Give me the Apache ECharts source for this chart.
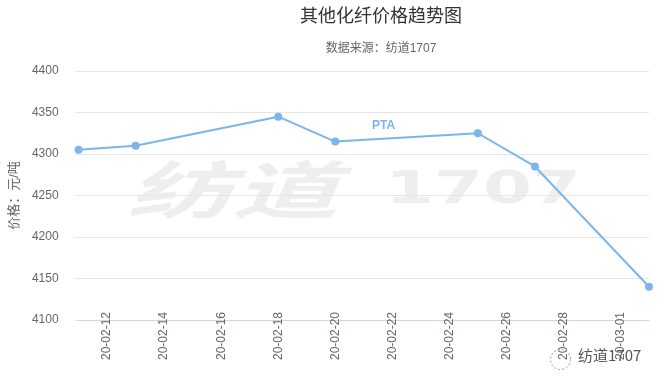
<!DOCTYPE html>
<html>
<head>
<meta charset="utf-8">
<script src="https://cdn.jsdelivr.net/npm/echarts@6/dist/echarts.min.js"></script>
<style>html,body{margin:0;padding:0;background:#fff}#c{width:666px;height:386px}</style>
</head>
<body>
<div id="c"></div>
<script>
const titleText = '其他化纤价格趋势图';
const subtitleText = '数据来源：纺道1707';
const yAxisName = '价格：元/吨';
const seriesName = 'PTA';
const dates = ['2020-02-11', '2020-02-13', '2020-02-18', '2020-02-20', '2020-02-25', '2020-02-27', '2020-03-02'];
const ptaPrices = [4305, 4310, 4345, 4315, 4325, 4285, 4140];
const tickDates = ['2020-02-12', '2020-02-14', '2020-02-16', '2020-02-18', '2020-02-20', '2020-02-22', '2020-02-24', '2020-02-26', '2020-02-28', '2020-03-01'];
const yTicks = [4100, 4150, 4200, 4250, 4300, 4350, 4400];

function ts(s) { return new Date(s + 'T00:00:00').getTime(); }
function pad(n) { return (n < 10 ? '0' : '') + n; }
function fmt(v) {
  const d = new Date(v);
  return pad(d.getFullYear() % 100) + '-' + pad(d.getMonth() + 1) + '-' + pad(d.getDate());
}

const FONT = "'Liberation Sans', 'Noto Sans CJK SC', sans-serif";
const chart = echarts.init(document.getElementById('c'));
chart.setOption({
  animation: false,
  backgroundColor: '#fff',
  textStyle: { fontFamily: FONT },
  title: {
    text: titleText,
    subtext: subtitleText,
    left: 376,
    textAlign: 'center',
    top: 3,
    itemGap: 17,
    textStyle: { fontSize: 18, fontWeight: 'normal', color: '#333', fontFamily: FONT },
    subtextStyle: { fontSize: 12, color: '#666', fontFamily: FONT }
  },
  grid: { left: 78, right: 17, top: 71, bottom: 66, containLabel: false },
  xAxis: {
    type: 'value',
    min: ts(dates[0]),
    max: ts(dates[dates.length - 1]),
    axisLine: { show: true, lineStyle: { color: '#ccd6eb', width: 1 } },
    axisTick: { show: false },
    splitLine: { show: false },
    axisLabel: {
      customValues: tickDates.map(ts),
      formatter: fmt,
      rotate: 90,
      margin: -8,
      color: '#666',
      fontSize: 12,
      fontFamily: FONT,
      hideOverlap: false
    }
  },
  yAxis: {
    type: 'value',
    min: yTicks[0],
    max: yTicks[yTicks.length - 1],
    interval: 50,
    name: yAxisName,
    nameLocation: 'middle',
    nameGap: 52,
    nameTextStyle: { color: '#666', fontSize: 13, fontFamily: FONT },
    axisLine: { show: false },
    axisTick: { show: true, length: 4, lineStyle: { color: '#e6e6e6' } },
    splitLine: { lineStyle: { color: '#e6e6e6', width: 1 } },
    axisLabel: { color: '#666', fontSize: 12, margin: 20, fontFamily: FONT, formatter: v => String(v) }
  },
  graphic: [
    { type: 'text', left: 127, top: 158, z: -10, silent: true, scaleX: 1.7,
      style: { text: '纺道', font: 'italic bold 62px "Noto Sans CJK SC"', fill: '#eeeeee' } },
    { type: 'text', left: 385, top: 170, z: -10, silent: true, scaleX: 1.6,
      style: { text: '1707', font: 'bold 44px "DejaVu Sans"', fill: '#eeeeee' } },
    { type: 'circle', left: 548, top: 347, silent: true, z: 10,
      shape: { r: 10 }, style: { fill: 'none', stroke: '#999', lineWidth: 1, lineDash: [2, 2] } },
    { type: 'text', left: 578, top: 348, z: 10, silent: true,
      style: { text: '纺道1707', font: '15px "Noto Sans CJK SC"', fill: '#555' } },
    { type: 'text', left: 372, top: 120, z: 10, silent: true,
      style: { text: seriesName, font: 'bold 12px "Liberation Sans"', fill: '#7cb5ec' } }
  ],
  series: [{
    name: seriesName,
    type: 'line',
    data: dates.map((d, i) => [ts(d), ptaPrices[i]]),
    symbol: 'circle',
    symbolSize: 8,
    lineStyle: { color: '#7cb5ec', width: 2 },
    itemStyle: { color: '#7cb5ec' },
    z: 5
  }]
});
</script>
</body>
</html>
